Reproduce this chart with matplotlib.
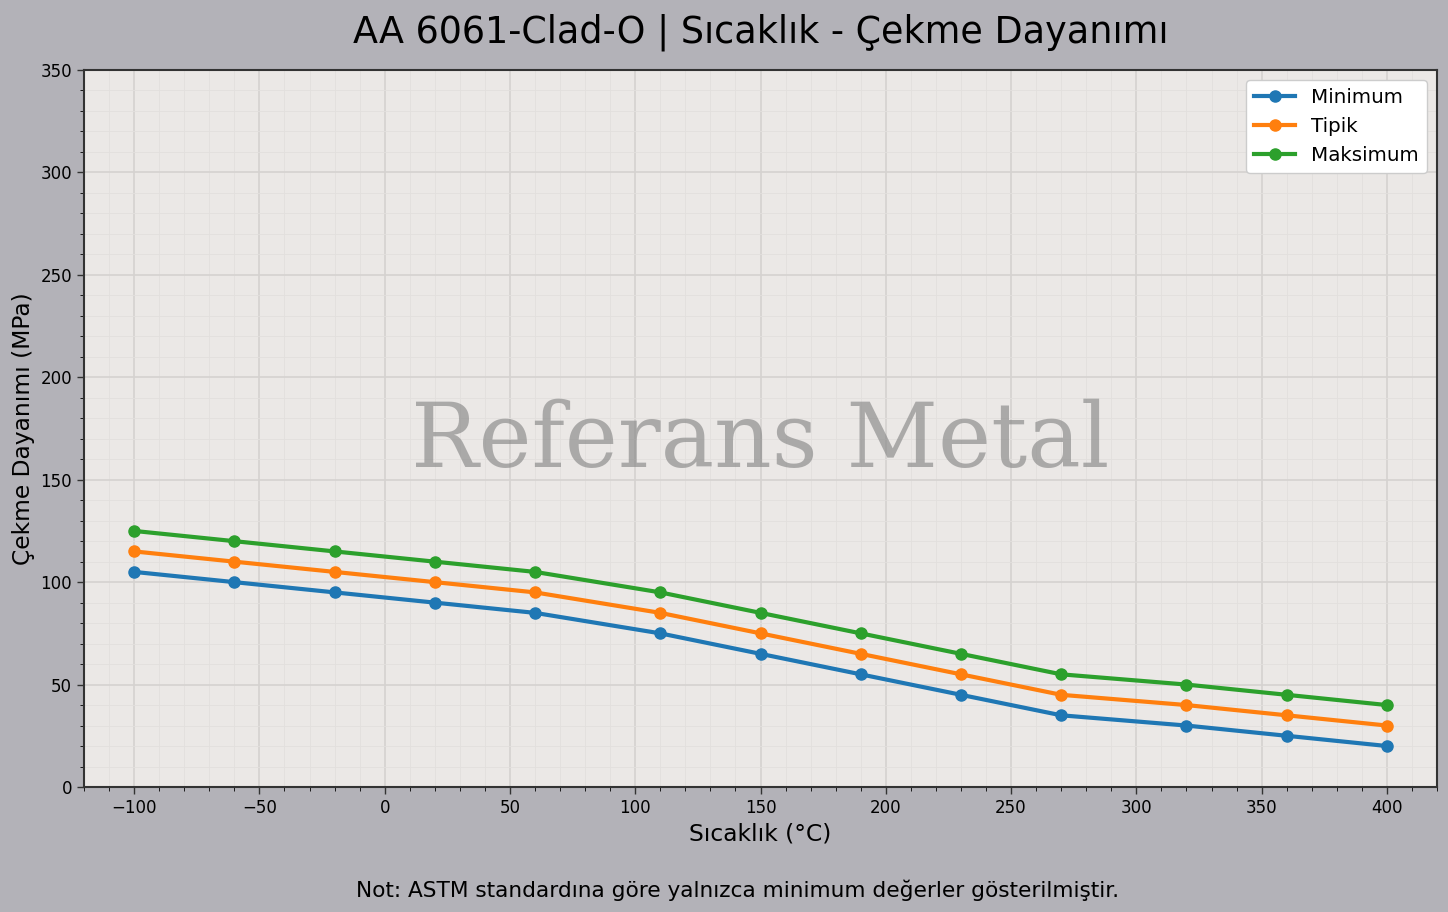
import matplotlib
matplotlib.use("Agg")
import matplotlib.pyplot as plt
from matplotlib.ticker import MultipleLocator

temps = [-100, -60, -20, 20, 60, 110, 150, 190, 230, 270, 320, 360, 400]
minimum = [105, 100, 95, 90, 85, 75, 65, 55, 45, 35, 30, 25, 20]
tipik = [115, 110, 105, 100, 95, 85, 75, 65, 55, 45, 40, 35, 30]
maksimum = [125, 120, 115, 110, 105, 95, 85, 75, 65, 55, 50, 45, 40]

fig = plt.figure(figsize=(14.48, 9.1201), dpi=100, facecolor="#b3b2b8")
ax = fig.add_axes([84/1448, 1-787/912, (1437-84)/1448, (787-70)/912])
ax.set_facecolor("#ebe8e6")

ax.plot(temps, minimum, "-o", color="#1f77b4", lw=3, ms=8, label="Minimum")
ax.plot(temps, tipik, "-o", color="#ff7f0e", lw=3, ms=8, label="Tipik")
ax.plot(temps, maksimum, "-o", color="#2ca02c", lw=3, ms=8, label="Maksimum")

ax.set_xlim(-120, 420)
ax.set_ylim(0, 350)
ax.xaxis.set_major_locator(MultipleLocator(50))
ax.xaxis.set_minor_locator(MultipleLocator(10))
ax.yaxis.set_major_locator(MultipleLocator(50))
ax.yaxis.set_minor_locator(MultipleLocator(10))
ax.grid(which="major", color="#d5d2d0", lw=1.2)
ax.grid(which="minor", color="#e2dfdd", lw=0.6)
ax.set_axisbelow(True)
ax.tick_params(labelsize=12, length=5, width=1, color="#333333")
ax.tick_params(which="minor", length=3)
for s in ax.spines.values():
    s.set_color("#333333")
    s.set_linewidth(1.5)

ax.set_xlabel("Sıcaklık (°C)", fontsize=16.8)
ax.set_ylabel("Çekme Dayanımı (MPa)", fontsize=16.8)
fig.text(760.5/1448, 1-42/912, "AA 6061-Clad-O | Sıcaklık - Çekme Dayanımı",
         fontsize=26.3, ha="center", va="baseline")

ax.text(0.5, 0.481, "Referans Metal", transform=ax.transAxes, ha="center", va="center",
        fontsize=64.5, family="DejaVu Serif", color="#808080", alpha=0.6)

leg = ax.legend(loc="upper right", fontsize=14.3, framealpha=1, facecolor="white",
                edgecolor="#cccccc", handlelength=2.1)

fig.text(738/1448, 1-897/912, "Not: ASTM standardına göre yalnızca minimum değerler gösterilmiştir.",
         ha="center", va="baseline", fontsize=15.6)

fig.savefig("out.png", dpi=100, facecolor=fig.get_facecolor())
